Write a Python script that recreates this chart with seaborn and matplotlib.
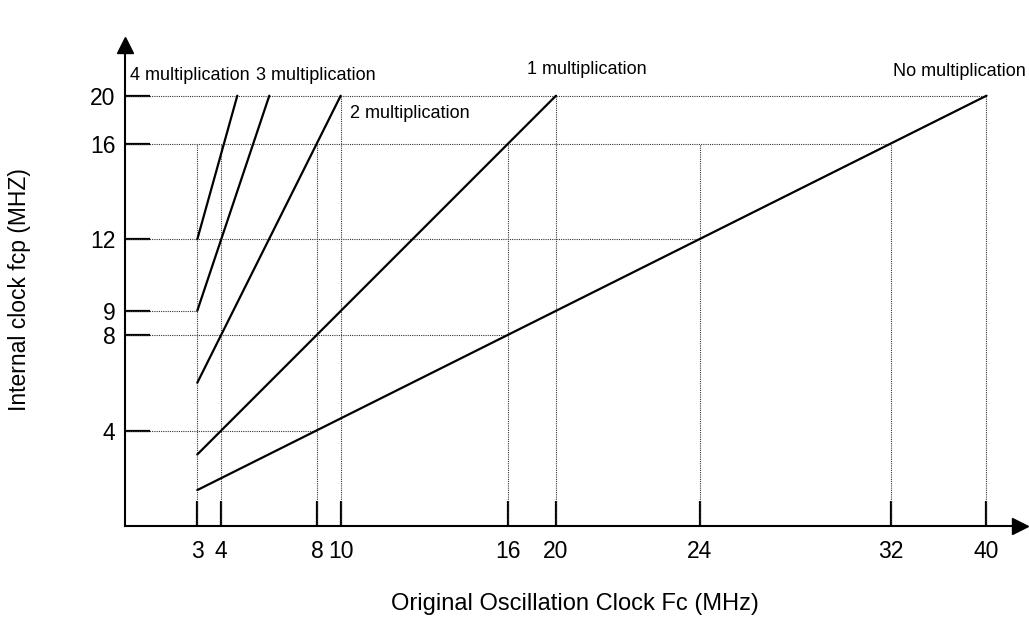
import numpy as np
import pandas as pd
import matplotlib
matplotlib.use("Agg")
import matplotlib.pyplot as plt
import seaborn as sns

# one straight line per clock mode: (Fc, fcp) at start and end
modes = ["No multiplication", "1 multiplication", "2 multiplication",
         "3 multiplication", "4 multiplication"]
fc_start = [3, 3, 3, 3, 3]
fc_end = [40, 20, 10, 20 / 3, 5]
fcp_start = [1.5, 3, 6, 9, 12]
fcp_end = [20, 20, 20, 20, 20]

x_ticks = [3, 4, 8, 10, 16, 20, 24, 32, 40]
y_ticks = [4, 8, 9, 12, 16, 20]

# dotted guides: verticals (x, up to y) and horizontals (y, out to x)
vg_x = [3, 4, 8, 10, 16, 20, 24, 32, 40]
vg_top = [16, 16, 16, 20, 16, 20, 16, 16, 20]
hg_y = [20, 16, 12, 9, 8, 4]
hg_right = [40, 32, 24, 3, 16, 8]

# the original diagram is not drawn to scale, so the axes use a
# piecewise-linear scale through the positions the ticks sit at
X_KNOTS = [0, 3, 4, 5, 20 / 3, 8, 10, 16, 20, 24, 32, 40, 42]
X_PIX = [125, 197.3, 221, 237.3, 269.3, 317, 340.7, 508.3, 556, 699.6, 890.8, 986.5, 1020]
Y_KNOTS = [0, 4, 8, 9, 12, 16, 20, 24]
Y_PIX = [93.3, 188.3, 284.3, 308.3, 379.7, 475.3, 523.3, 574]


def make_scale(knots, pix):
    def fwd(v):
        return np.interp(v, knots, pix)

    def inv(p):
        return np.interp(p, pix, knots)
    return fwd, inv


df = pd.DataFrame({
    "mode": modes * 2,
    "fc": fc_start + fc_end,
    "fcp": fcp_start + fcp_end,
})

sns.set_style("white")
plt.rcParams["font.family"] = ["Liberation Sans", "DejaVu Sans"]
plt.rcParams["text.color"] = "black"

W, H = 1029, 619
fig = plt.figure(figsize=(W / 100, H / 100), dpi=100)
ax = fig.add_axes([125 / W, 93.3 / H, (1020 - 125) / W, (574 - 93.3) / H])
ax.set_xscale("function", functions=make_scale(X_KNOTS, X_PIX))
ax.set_yscale("function", functions=make_scale(Y_KNOTS, Y_PIX))

# guides first so the lines sit on top
for x, top in zip(vg_x, vg_top):
    ax.plot([x, x], [0, top], color="#333333", lw=0.8, ls=(0, (1, 1)), zorder=1)
for y, right in zip(hg_y, hg_right):
    ax.plot([0, right], [y, y], color="#333333", lw=0.8, ls=(0, (1, 1)), zorder=1)

sns.lineplot(data=df, x="fc", y="fcp", units="mode", estimator=None,
             color="black", lw=1.6, sort=False, ax=ax, zorder=3)

ax.set_xlim(0, 42)
ax.set_ylim(0, 24)
ax.set_xticks(x_ticks)
ax.set_xticklabels([str(t) for t in x_ticks])
ax.set_yticks(y_ticks)
ax.set_yticklabels([str(t) for t in y_ticks])
ax.minorticks_off()
ax.tick_params(axis="both", which="major", bottom=True, left=True,
               direction="in", length=18, width=1.6,
               color="black", labelsize=16.5, labelcolor="black")
ax.tick_params(axis="x", pad=10)
ax.tick_params(axis="y", pad=7)

for side in ["top", "right"]:
    ax.spines[side].set_visible(False)
for side in ["left", "bottom"]:
    ax.spines[side].set_linewidth(1.5)
    ax.spines[side].set_color("black")

# arrow heads on both axes
ax.plot([1], [0], marker=">", ms=11, color="black", transform=ax.transAxes, clip_on=False)
ax.plot([0], [1], marker="^", ms=11, color="black", transform=ax.transAxes, clip_on=False)

ax.set_xlabel("")
ax.set_ylabel("")
fig.text(575 / W, 1 - 604 / H, "Original Oscillation Clock Fc (MHz)",
         ha="center", va="center", fontsize=17, color="black")
fig.text(20 / W, 1 - 290 / H, "Internal clock fcp (MHZ)",
         ha="center", va="center", rotation=90, fontsize=16.5, color="black")

# labels for each line
label_x = [893, 527, 350, 256, 130]
label_y = [71, 69, 113, 75, 75]
for name, lx, ly in zip(modes, label_x, label_y):
    fig.text(lx / W, 1 - ly / H, name, ha="left", va="center", fontsize=13, color="black")

fig.savefig("out.png", dpi=100)
